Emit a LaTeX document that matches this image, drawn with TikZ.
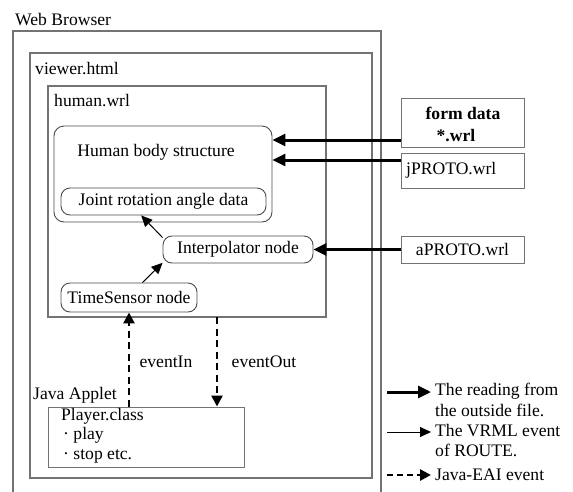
\documentclass[tikz,border=0pt]{standalone}
\usepackage{fontspec}
\setmainfont{Liberation Serif}
\usetikzlibrary{arrows.meta}
\begin{document}
\begin{tikzpicture}[x=1pt,y=-1pt,
  every node/.style={font=\fontsize{17.6}{20}\selectfont, inner sep=0pt},
  frame/.style={draw=black!55, line width=1.1pt},
  rbox/.style={draw=black!70, line width=0.9pt, rounded corners=10pt},
  filebox/.style={draw=black!55, line width=1pt},
  readarrow/.style={line width=3pt, -{Triangle[length=13pt,width=12pt]}},
  routearrow/.style={line width=1pt, -{Triangle[length=11pt,width=10pt]}},
  eaiarrow/.style={line width=2.6pt, dash pattern=on 7pt off 4.5pt,
    -{Triangle[length=11pt,width=11pt]}},
  lbl/.style={anchor=west}]
\useasboundingbox (0,0) rectangle (573,491);
\fill[white] (0,0) rectangle (573,491);

% nested containers
\node[lbl] (wb) at (15,20) {Web Browser};
\draw[frame] (13,500) |- (381,31) -- (381,500);
\draw[frame] (30,53) rectangle (372,478);
\node[lbl] (vh) at (35,69) {viewer.html};
\draw[frame] (48,86) rectangle (326,317);
\node[lbl] (hw) at (54,101) {human.wrl};

% VRML scene nodes
\node[rbox, minimum width=218pt, minimum height=96pt] (body) at (163,174) {};
\node (bodytxt) at (156,152) {Human body structure};
\node[rbox, rounded corners=9pt, minimum width=205pt, minimum height=27pt] (joint) at (163.5,201.5) {Joint rotation angle data};
\node[rbox, rounded corners=9pt, minimum width=150pt, minimum height=27pt] (interp) at (238,249.5) {Interpolator node};
\node[rbox, rounded corners=9pt, minimum width=136pt, minimum height=29pt] (ts) at (129,297.5) {TimeSensor node};

% external files
\node[filebox, minimum width=123pt, minimum height=49pt] (form) at (462.5,122.5) {};
\node (formtxt1) at (463,113) {\bfseries form data};
\node (formtxt2) at (456,136) {\bfseries *.wrl};
\node[filebox, minimum width=123pt, minimum height=35pt] (jproto) at (462.5,170.5) {};
\node[lbl] (jtxt) at (406,170) {jPROTO.wrl};
\node[filebox, minimum width=123pt, minimum height=27pt] (aproto) at (462.5,249.5) {aPROTO.wrl};

% Java applet
\node[lbl] (ja) at (33,395) {Java Applet};
\node[filebox, minimum width=196pt, minimum height=60pt] (player) at (146,437) {};
\node[lbl] (pc) at (61,416) {Player.class};
\node[lbl] (p1) at (63,435) {· play};
\node[lbl] (p2) at (63,456) {· stop etc.};

% reading from outside files
\coordinate (fa) at ([yshift=-17.5pt]form.west);
\coordinate (ja1) at ([yshift=10.5pt]jproto.west);
\draw[readarrow] (fa) -- (fa -| body.east);
\draw[readarrow] (ja1) -- (ja1 -| body.east);
\draw[readarrow] (aproto.west) -- (interp.east);

% ROUTE events
\draw[routearrow] (interp.171) -- (joint.212);
\draw[routearrow] (ts.48) -- (interp.190);

% EAI events
\coordinate (hbot) at (217,317);
\draw[eaiarrow] (player.north -| ts.south) -- (ts.south);
\draw[eaiarrow] (hbot) -- (hbot |- player.north);
\node (ein) at (166,362) {eventIn};
\node (eout) at (264,362) {eventOut};

% legend
\coordinate (k1a) at (387,392); \coordinate (k1b) at (431,392);
\coordinate (k2a) at (387,432); \coordinate (k2b) at (431,432);
\coordinate (k3a) at (387,475); \coordinate (k3b) at (431,475);
\draw[readarrow] (k1a) -- (k1b);
\draw[routearrow] (k2a) -- (k2b);
\draw[eaiarrow, dash pattern=on 6pt off 4pt] (k3a) -- (k3b);
\node[lbl] (t1) at (435,391) {The reading from};
\node[lbl] (t1b) at (435,410) {the outside file.};
\node[lbl] (t2) at (435,431) {The VRML event};
\node[lbl] (t2b) at (435,450) {of ROUTE.};
\node[lbl] (t3) at (435,475) {Java-EAI event};
\end{tikzpicture}
\end{document}
